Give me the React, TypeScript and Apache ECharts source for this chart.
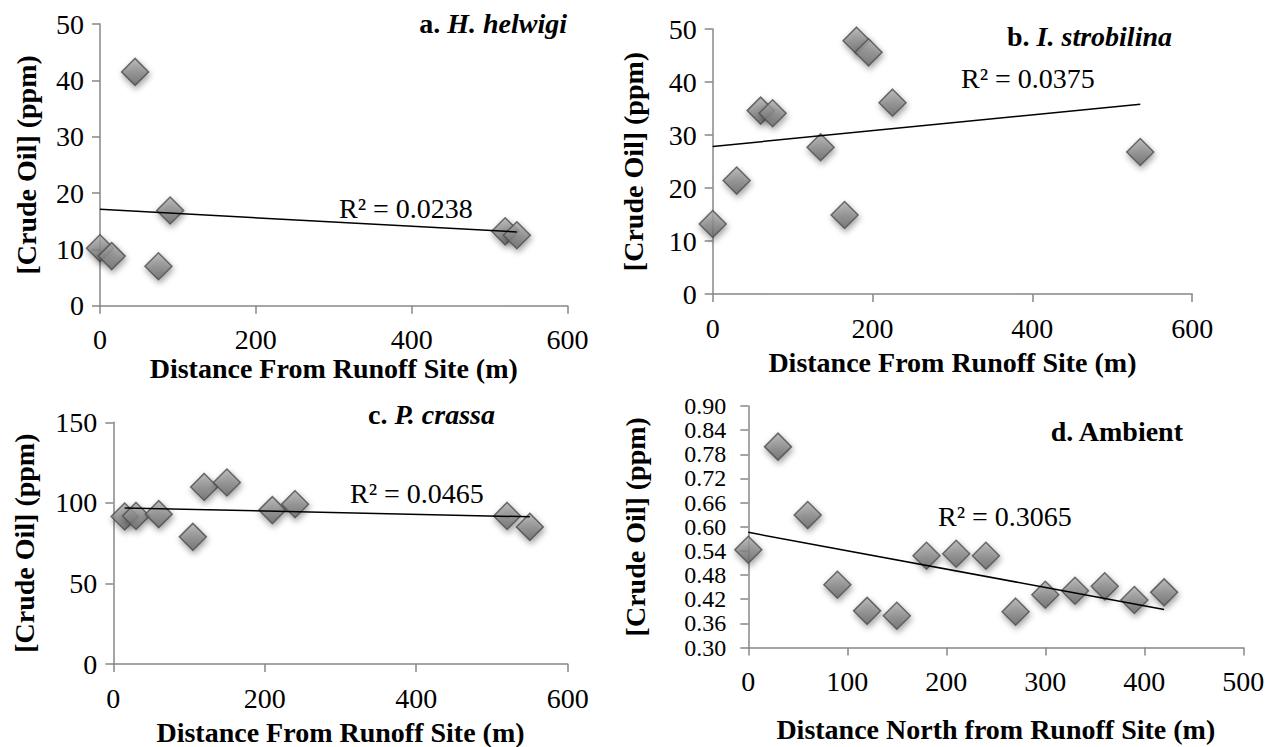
import React, { useEffect, useRef } from "react";
import * as echarts from "echarts";

// Panel a. H. helwigi
const distA = [0, 15, 45, 75, 90, 520, 535];
const oilA = [10.2, 8.8, 41.5, 7.0, 16.9, 13.2, 12.5];
// Panel b. I. strobilina
const distB = [0, 30, 60, 75, 135, 165, 180, 195, 225, 535];
const oilB = [13.2, 21.4, 34.6, 34.1, 27.7, 14.9, 47.8, 45.6, 36.1, 26.8];
// Panel c. P. crassa
const distC = [15, 30, 60, 105, 120, 150, 210, 240, 520, 550];
const oilC = [91.5, 91.9, 93.0, 78.9, 109.9, 112.6, 95.5, 99.2, 91.9, 85.1];
// Panel d. Ambient
const distD = [0, 30, 60, 90, 120, 150, 180, 210, 240, 270, 300, 330, 360, 390, 420];
const oilD = [0.543, 0.799, 0.629, 0.456, 0.391, 0.379, 0.528, 0.533, 0.528, 0.389, 0.431, 0.441, 0.452, 0.418, 0.437];

const panelLetters = ["a. ", "b. ", "c. ", "d. Ambient"];
const panelSpecies = ["H. helwigi", "I. strobilina", "P. crassa", ""];
const r2Labels = ["R² = 0.0238", "R² = 0.0375", "R² = 0.0465", "R² = 0.3065"];
const xTitles = [
  "Distance From Runoff Site (m)",
  "Distance From Runoff Site (m)",
  "Distance From Runoff Site (m)",
  "Distance North from Runoff Site (m)",
];
const yTitle = "[Crude Oil] (ppm)";

const FONT = "'Liberation Serif', 'Times New Roman', serif";
const FS = 28;

function trend(xs: number[], ys: number[]) {
  const n = xs.length;
  const mx = xs.reduce((a, b) => a + b, 0) / n;
  const my = ys.reduce((a, b) => a + b, 0) / n;
  let sxy = 0, sxx = 0;
  for (let i = 0; i < n; i++) {
    sxy += (xs[i] - mx) * (ys[i] - my);
    sxx += (xs[i] - mx) * (xs[i] - mx);
  }
  const b = sxy / sxx;
  const a = my - b * mx;
  const x0 = Math.min(...xs);
  const x1 = Math.max(...xs);
  return [[x0, a + b * x0], [x1, a + b * x1]];
}

export default function App() {
  const ref = useRef<HTMLDivElement>(null);
  useEffect(() => {
    if (!ref.current) return;
    const chart = echarts.init(ref.current, undefined, { renderer: "svg" });

    const grids = [
      { left: 100, top: 24, width: 467.5, height: 281.7 },
      { left: 712.7, top: 29, width: 479.5, height: 265 },
      { left: 113.3, top: 422.3, width: 454.4, height: 242.7 },
      { left: 748.3, top: 406, width: 495, height: 241.5 },
    ];
    const xRanges = [
      { min: 0, max: 600, interval: 200 },
      { min: 0, max: 600, interval: 200 },
      { min: 0, max: 600, interval: 200 },
      { min: 0, max: 500, interval: 100 },
    ];
    const yRanges = [
      { min: 0, max: 50, interval: 10 },
      { min: 0, max: 50, interval: 10 },
      { min: 0, max: 150, interval: 50 },
      { min: 0.3, max: 0.9, interval: 0.06 },
    ];
    const xNameGaps = [44, 54, 54, 68];
    const yNameGaps = [60, 65, 75, 99];
    const dists = [distA, distB, distC, distD];
    const oils = [oilA, oilB, oilC, oilD];

    const axisLine = { show: true, lineStyle: { color: "#878787", width: 1.5 } };
    const axisTick = { show: true, length: 8, lineStyle: { color: "#878787", width: 1.5 } };
    const labelStyle = { color: "#000", fontFamily: FONT, fontSize: FS };
    const nameStyle = { color: "#000", fontFamily: FONT, fontSize: FS, fontWeight: "bold" as const };

    const markerStyle = {
      color: new echarts.graphic.LinearGradient(0, 0, 0, 1, [
        { offset: 0, color: "#b0b0b0" },
        { offset: 1, color: "#666666" },
      ]),
      borderColor: "#4d4d4d",
      borderWidth: 1.5,
      shadowBlur: 6,
      shadowColor: "rgba(0,0,0,0.45)",
      shadowOffsetX: 1,
      shadowOffsetY: 3,
    };

    const series: any[] = [];
    dists.forEach((xs, i) => {
      series.push({
        type: "scatter",
        xAxisIndex: i,
        yAxisIndex: i,
        symbol: "diamond",
        symbolSize: 27,
        itemStyle: markerStyle,
        data: xs.map((x, j) => [x, oils[i][j]]),
        z: 2,
      });
      series.push({
        type: "line",
        xAxisIndex: i,
        yAxisIndex: i,
        showSymbol: false,
        symbol: "none",
        lineStyle: { color: "#000", width: 1.5 },
        data: trend(xs, oils[i]),
        z: 3,
      });
    });

    const titlePos = [
      { x: 567, y: 23 },
      { x: 1172, y: 36 },
      { x: 495, y: 414 },
      { x: 1183, y: 431 },
    ];
    const r2Pos = [
      { x: 339, y: 208 },
      { x: 961, y: 78 },
      { x: 350, y: 493 },
      { x: 938, y: 516 },
    ];

    const graphic: any[] = [];
    titlePos.forEach((p, i) => {
      graphic.push({
        type: "text",
        x: p.x,
        y: p.y,
        style: {
          text: panelSpecies[i] ? `{b|${panelLetters[i]}}{bi|${panelSpecies[i]}}` : `{b|${panelLetters[i]}}`,
          align: "right",
          verticalAlign: "middle",
          rich: {
            b: { fontFamily: FONT, fontSize: FS, fontWeight: "bold", fill: "#000", color: "#000" },
            bi: { fontFamily: FONT, fontSize: FS, fontWeight: "bold", fontStyle: "italic", fill: "#000", color: "#000" },
          },
        },
      });
    });
    r2Pos.forEach((p, i) => {
      graphic.push({
        type: "text",
        x: p.x,
        y: p.y,
        style: {
          text: r2Labels[i],
          fontFamily: FONT,
          fontSize: FS,
          fill: "#000",
          align: "left",
          verticalAlign: "middle",
        },
      });
    });

    chart.setOption({
      animation: false,
      backgroundColor: "#fff",
      grid: grids.map((g) => ({ ...g, containLabel: false })),
      xAxis: xRanges.map((r, i) => ({
        type: "value",
        gridIndex: i,
        ...r,
        name: xTitles[i],
        nameLocation: "middle",
        nameGap: xNameGaps[i],
        nameTextStyle: nameStyle,
        axisLine,
        axisTick,
        splitLine: { show: false },
        axisLabel: { ...labelStyle, margin: 20, showMinLabel: true, showMaxLabel: true, hideOverlap: false },
      })),
      yAxis: yRanges.map((r, i) => ({
        type: "value",
        gridIndex: i,
        ...r,
        name: yTitle,
        nameLocation: "middle",
        nameGap: yNameGaps[i],
        nameTextStyle: nameStyle,
        axisLine,
        axisTick,
        splitLine: { show: false },
        axisLabel: {
          ...labelStyle,
          fontSize: i === 3 ? 24 : FS,
          lineHeight: i === 3 ? 22 : undefined,
          margin: i === 3 ? 22 : 16,
          showMinLabel: true,
          showMaxLabel: true,
          hideOverlap: false,
          formatter: i === 3 ? (v: number) => v.toFixed(2) : undefined,
        },
      })),
      series,
      graphic,
    });

    return () => chart.dispose();
  }, []);

  return (
    <div
      ref={ref}
      style={{ position: "absolute", left: 0, top: 0, width: 1277, height: 747 }}
    />
  );
}
